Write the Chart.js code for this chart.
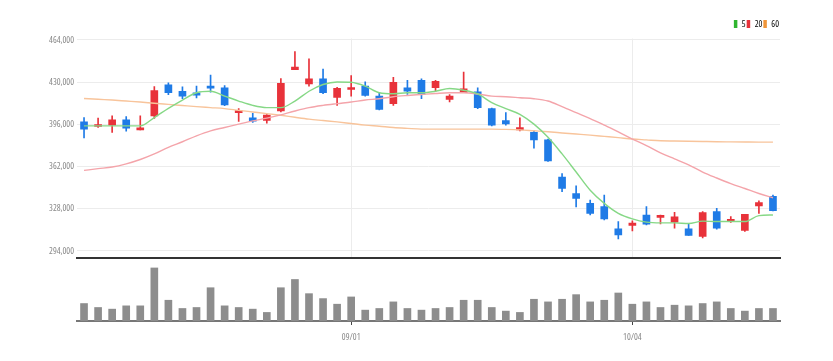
<!DOCTYPE html>
<html>
<head>
<meta charset="utf-8">
<script src="https://cdn.jsdelivr.net/npm/chart.js@4.4.0/dist/chart.umd.min.js"></script>
<style>
  html, body { margin: 0; padding: 0; background: #fff; }
  #wrap { position: relative; width: 833px; height: 361px; }
  #price-box { position: absolute; left: 0; top: 0; width: 833px; height: 266px; }
  #volume-box { position: absolute; left: 0; top: 262px; width: 833px; height: 99px; }
</style>
</head>
<body>
<div id="wrap">
  <div id="volume-box"><canvas id="volume"></canvas></div>
  <div id="price-box"><canvas id="price"></canvas></div>
</div>
<script>
// trading days (2022)
const labels = ["08/04","08/05","08/08","08/09","08/10","08/11","08/12","08/16","08/17","08/18",
  "08/19","08/22","08/23","08/24","08/25","08/26","08/29","08/30","08/31","09/01",
  "09/02","09/05","09/06","09/07","09/08","09/13","09/14","09/15","09/16","09/19",
  "09/20","09/21","09/22","09/23","09/26","09/27","09/28","09/29","09/30","10/04",
  "10/05","10/06","10/07","10/11","10/12","10/13","10/14","10/17","10/18","10/19"];
const shownDates = ["09/01", "10/04"];

// candles
const opens = [398000,394300,395400,399600,391600,402800,427800,422700,421500,426800,
  425500,405500,401200,399100,406800,440100,428600,432600,417700,424100,
  426800,418800,412700,425500,431500,425500,416100,421500,422300,408700,
  399100,391600,389500,383600,353600,340300,332300,329700,311800,314500,
  323000,321100,317200,311800,305700,325700,317700,310500,330200,338100];
const highs = [401500,401000,402800,402300,402800,426500,429400,426300,426800,435800,
  427300,408700,404900,403900,432900,454700,448800,440600,425900,435300,
  430200,421500,433900,431500,432600,431500,420100,438200,425500,409200,
  405500,401200,390800,384200,356300,346400,335000,339000,317700,318200,
  329700,323000,325100,315800,325700,328300,321700,323500,334400,339000];
const lows = [385000,393500,389500,390600,391600,400700,419900,416700,417300,421900,
  411100,398300,397500,397000,406000,440100,426800,420700,411300,418800,
  418800,407600,411300,420100,416700,422700,414000,421500,408700,394800,
  395400,390800,376800,366100,341700,329400,323000,319000,303600,310200,
  315000,315800,312400,306500,304400,311600,316900,309700,324300,326200];
const closes = [392200,395900,399600,393000,393000,423300,421500,418800,419600,425200,
  411600,407100,398600,403400,429100,442200,432600,421500,425100,425500,
  419300,408100,429900,422700,420100,430700,418800,424700,409500,395400,
  396400,393500,383400,366600,344300,336300,324300,319800,307000,316400,
  315600,322500,321400,306500,324900,312400,319500,323500,332900,326500];

// moving averages
const ma5 = [394800,394800,394800,394800,394800,401500,408900,415600,421500,422700,
  418800,414800,411300,409500,409500,414800,422700,428100,430200,429900,
  426800,421500,420700,421500,421500,422700,424900,423500,420500,413500,
  408700,404100,396200,385600,372200,357600,342900,332300,324300,319800,
  317200,316600,316600,316100,318000,317700,317700,317700,322500,323000];
const ma20 = [358900,360300,361600,364200,367700,372200,377500,382000,386800,390800,
  393500,396200,398800,401000,403700,406800,409500,411300,412700,414000,
  415600,416700,418300,419300,420100,420900,421500,421500,420500,418800,
  418300,417500,416700,414800,410300,405500,400700,395400,390000,384200,
  378900,373000,368200,363400,357600,352800,348300,344300,340300,336900];
const ma60 = [416900,416200,415600,414800,414000,413000,412100,411200,410300,409500,
  408700,407300,406000,404700,403300,401700,400200,399100,398000,396700,
  395400,394500,393500,392800,392200,392200,392200,392200,392200,392200,
  392000,391600,390800,390000,389100,388200,387300,386300,385300,384200,
  383500,382800,382600,382400,382200,382000,381900,381800,381700,381700];

const volumes = [53000,41000,36000,46000,46000,161000,63000,38000,41000,101000,
  46000,41000,36000,26000,101000,126000,83000,68000,51000,73000,
  33000,38000,58000,38000,33000,38000,41000,63000,63000,41000,
  30000,26000,66000,58000,66000,80000,58000,63000,85000,51000,
  58000,41000,48000,46000,53000,58000,38000,30000,38000,38000];

const yTicks = [294000, 328000, 362000, 396000, 430000, 464000];
const maNames = ["5", "20", "60"];

const UP = "#e8323a";
const DOWN = "#1f7be6";
const lineColors = ["#86d886", "#f4a4aa", "#f8c49b"];
const legendColors = ["#2fb52f", "#e8323a", "#f0963a"];
// condensed Open Sans via the font-stretch keyword
const smallFont = { family: "'Open Sans', sans-serif", size: 9, weight: "ultra-condensed" };

const candleColors = opens.map((o, i) => closes[i] >= o ? UP : DOWN);

function maLine(name, data, color) {
  return {
    type: "line",
    label: name,
    data: data,
    borderColor: color,
    borderWidth: 1.4,
    pointRadius: 0,
    cubicInterpolationMode: "monotone",
    order: 0
  };
}

const priceChart = new Chart(document.getElementById("price"), {
  type: "bar",
  data: {
    labels,
    datasets: [
      maLine(maNames[0], ma5, lineColors[0]),
      maLine(maNames[1], ma20, lineColors[1]),
      maLine(maNames[2], ma60, lineColors[2]),
      {
        label: "body",
        data: opens.map((o, i) => [o, closes[i]]),
        backgroundColor: candleColors,
        barThickness: 7,
        minBarLength: 2,
        grouped: false,
        order: 1
      },
      {
        label: "wick",
        data: lows.map((l, i) => [l, highs[i]]),
        backgroundColor: candleColors,
        barThickness: 1,
        grouped: false,
        order: 2
      }
    ]
  },
  options: {
    responsive: true,
    maintainAspectRatio: false,
    animation: false,
    // legend: 18.5 + 9 + 1 + 10 -> plot top at 38.5
    layout: { padding: { left: 0, right: 53, top: 18.5, bottom: 7 } },
    plugins: {
      tooltip: { enabled: false },
      legend: {
        position: "top",
        align: "end",
        labels: {
          boxWidth: 3.5,
          boxHeight: 8,
          padding: 1,
          color: "#888",
          font: smallFont,
          generateLabels: () => maNames.map((n, i) => ({
            text: n,
            fillStyle: legendColors[i],
            strokeStyle: legendColors[i],
            lineWidth: 0,
            datasetIndex: i
          }))
        }
      }
    },
    scales: {
      x: {
        offset: true,
        ticks: { display: false, autoSkip: false },
        grid: {
          offset: false,
          drawTicks: false,
          color: ctx => ctx.tick && shownDates.includes(labels[ctx.index]) ? "#ececec" : "rgba(0,0,0,0)"
        },
        border: { color: "#333", width: 2 },
        afterFit: s => { s.height = 0; }
      },
      y: {
        min: 288635,
        max: 465200,
        afterBuildTicks: s => { s.ticks = yTicks.map(v => ({ value: v })); },
        afterFit: s => { s.width = 77; },
        ticks: {
          color: "#888",
          padding: 3,
          font: smallFont,
          callback: v => v.toLocaleString("en-US")
        },
        grid: { color: "#ececec", drawTicks: false },
        border: { display: false }
      }
    }
  }
});

const volumeChart = new Chart(document.getElementById("volume"), {
  type: "bar",
  data: {
    labels,
    datasets: [{
      label: "volume",
      data: volumes,
      backgroundColor: "#8d8d8d",
      barThickness: 7
    }]
  },
  options: {
    responsive: true,
    maintainAspectRatio: false,
    animation: false,
    layout: { padding: { left: 77, right: 53, top: 2, bottom: 0 } },
    plugins: { legend: { display: false }, tooltip: { enabled: false } },
    scales: {
      x: {
        offset: true,
        ticks: {
          autoSkip: false,
          maxRotation: 0,
          padding: 7,
          color: "#888",
          font: smallFont,
          callback: (v, i) => shownDates.includes(labels[i]) ? labels[i] : ""
        },
        grid: {
          offset: false,
          drawOnChartArea: false,
          tickLength: 4,
          color: ctx => ctx.tick && shownDates.includes(labels[ctx.index]) ? "#444" : "rgba(0,0,0,0)"
        },
        border: { color: "#777", width: 2 },
        afterFit: s => { s.height = 40; }
      },
      y: { display: false, min: 0, max: 173000 }
    }
  }
});
</script>
</body>
</html>
